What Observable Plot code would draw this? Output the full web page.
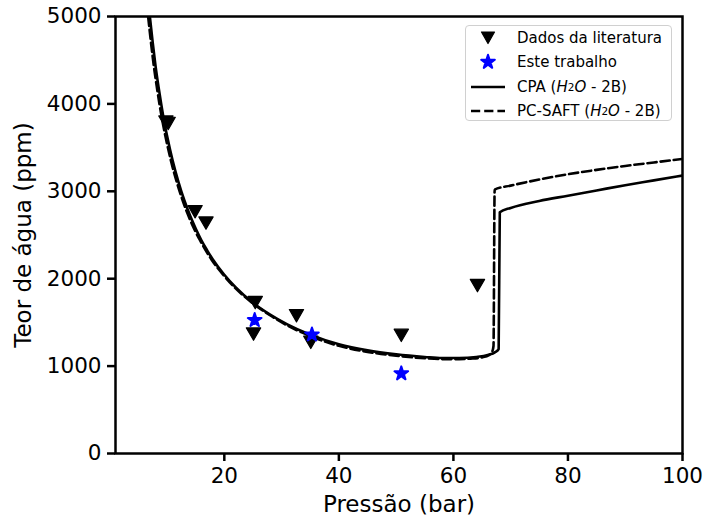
<!DOCTYPE html>
<html>
<head>
<meta charset="utf-8">
<script src="https://cdn.jsdelivr.net/npm/d3@7"></script>
<script src="https://cdn.jsdelivr.net/npm/@observablehq/plot@0.6"></script>
<style>
  html, body { margin: 0; padding: 0; background: #fff; }
  #wrap { position: relative; width: 706px; height: 517px; font-family: "DejaVu Sans", sans-serif; }
  #wrap svg text { fill: #000; }
  [aria-label="x-axis label"] text, [aria-label="y-axis label"] text { font-size: 23px; }
  #legend {
    position: absolute; left: 465px; top: 25px; width: 207px; height: 96px;
    border: 1px solid #d0d0d0; border-radius: 4px; background: rgba(255,255,255,0.8);
    box-sizing: border-box;
  }
  .row { position: absolute; left: 0; height: 24px; display: flex; align-items: center; font-size: 15px; color: #000; white-space: nowrap; }
  .row svg { width: 51px; height: 24px; flex: none; }
  sub { font-size: 10.5px; vertical-align: -3px; line-height: 0; }
</style>
</head>
<body>
<div id="wrap"></div>
<script>
// ---- data ----
const xTicks = [20, 40, 60, 80, 100];
const yTicks = [0, 1000, 2000, 3000, 4000, 5000];

// Dados da literatura
const pressaoLit = [9.8, 10.2, 14.9, 16.8, 25.4, 25.1, 32.6, 35.1, 50.9, 64.2];
const teorLit    = [3815, 3800, 2790, 2660, 1750, 1390, 1600, 1295, 1375, 1945];

// Este trabalho
const pressaoEste = [25.3, 35.3, 50.9];
const teorEste    = [1525, 1360, 915];

// CPA (H2O - 2B)
const cpaP    = [7.0, 7.5, 8, 8.5, 9, 9.5, 10, 11, 12, 13, 14, 15, 16, 17, 18, 20, 22, 25, 28, 31, 35, 40, 45, 50, 55, 58, 61, 64, 66, 67.3, 67.9, 68.1, 70, 75, 80, 85, 90, 95, 100];
const cpaTeor = [5000, 4700, 4430, 4200, 3990, 3800, 3635, 3345, 3105, 2900, 2725, 2575, 2440, 2325, 2220, 2045, 1900, 1725, 1590, 1478, 1360, 1250, 1180, 1135, 1105, 1092, 1092, 1105, 1128, 1160, 1195, 2760, 2810, 2890, 2950, 3010, 3070, 3125, 3181];

// PC-SAFT (H2O - 2B)
const pcP    = [6.7, 7.2, 7.7, 8.2, 8.7, 9.2, 9.7, 10.7, 11.7, 12.7, 13.7, 14.7, 15.75, 16.75, 17.75, 19.8, 21.8, 24.85, 27.9, 31, 35, 40, 45, 50, 55, 58, 61, 63, 65, 66.2, 66.8, 67.0, 67.2, 70, 75, 80, 85, 90, 95, 100];
const pcTeor = [5000, 4700, 4430, 4200, 3990, 3800, 3635, 3345, 3105, 2900, 2725, 2575, 2440, 2325, 2220, 2045, 1900, 1725, 1585, 1465, 1343, 1232, 1163, 1118, 1090, 1080, 1080, 1085, 1100, 1125, 1170, 1230, 3020, 3065, 3135, 3195, 3245, 3290, 3330, 3370];

const lit  = pressaoLit.map((p, i) => ({p, t: teorLit[i]}));
const este = pressaoEste.map((p, i) => ({p, t: teorEste[i]}));
const cpa  = cpaP.map((p, i) => ({p, t: cpaTeor[i]}));
const pc   = pcP.map((p, i) => ({p, t: pcTeor[i]}));

const chart = Plot.plot({
  width: 706, height: 517,
  marginLeft: 115, marginRight: 24, marginTop: 16, marginBottom: 64,
  style: {fontFamily: "DejaVu Sans", fontSize: "21.5px", background: "#fff", color: "#000"},
  x: {domain: [1, 100]},
  y: {domain: [0, 5000]},
  marks: [
    Plot.line(cpa, {x: "p", y: "t", stroke: "#000", strokeWidth: 2.6, curve: "monotone-x", clip: true}),
    Plot.line(pc, {x: "p", y: "t", stroke: "#000", strokeWidth: 2.6, strokeDasharray: "9.2,4", curve: "monotone-x", clip: true}),
    Plot.dot(lit, {x: "p", y: "t", symbol: "triangle", rotate: 180, r: 5.3, fill: "#000", stroke: "#000", strokeWidth: 1.2, strokeLinejoin: "round"}),
    Plot.dot(este, {x: "p", y: "t", symbol: "star", r: 4.3, fill: "#0000ff", stroke: "#0000ff", strokeWidth: 2, strokeLinejoin: "round"}),
    Plot.axisX({ticks: xTicks, tickSize: 8, tickPadding: 6.5, strokeWidth: 2.5, fontSize: 21.5,
      label: "Pressão (bar)", labelAnchor: "center", labelArrow: "none", labelOffset: 58}),
    Plot.axisY({ticks: yTicks, tickSize: 8, tickPadding: 6, strokeWidth: 2.5, fontSize: 21.5, tickFormat: d => String(d),
      label: "Teor de água (ppm)", labelAnchor: "center", labelArrow: "none", labelOffset: 101}),
    Plot.frame({stroke: "#000", strokeWidth: 2.5})
  ]
});
const wrap = document.getElementById("wrap");
wrap.appendChild(chart);

// legend
const legend = document.createElement("div");
legend.id = "legend";
legend.innerHTML = `
  <div class="row" style="top:0px"><svg viewBox="0 0 51 24"><path d="M15.5,6 L28.5,6 L22,17.5 Z" fill="#000" stroke="#000" stroke-width="1.2" stroke-linejoin="round"/></svg>Dados da literatura</div>
  <div class="row" style="top:24px"><svg viewBox="0 0 51 24"><path id="starp" fill="#0000ff" stroke="#0000ff" stroke-width="2" stroke-linejoin="round"/></svg>Este trabalho</div>
  <div class="row" style="top:48.5px"><svg viewBox="0 0 51 24"><line x1="5" x2="39" y1="12" y2="12" stroke="#000" stroke-width="2.6"/></svg>CPA (<i>H</i><sub>2</sub><i>O</i>&nbsp;-&nbsp;2B)</div>
  <div class="row" style="top:73px"><svg viewBox="0 0 51 24"><line x1="5" x2="39" y1="12" y2="12" stroke="#000" stroke-width="2.6" stroke-dasharray="9.2,4"/></svg>PC-SAFT (<i>H</i><sub>2</sub><i>O</i>&nbsp;-&nbsp;2B)</div>
`;
wrap.appendChild(legend);
const starPath = d3.symbol(d3.symbolStar, Math.PI * 4.3 * 4.3)();
const sp = legend.querySelector("#starp");
sp.setAttribute("d", starPath);
sp.setAttribute("transform", "translate(22,12)");
</script>
</body>
</html>
